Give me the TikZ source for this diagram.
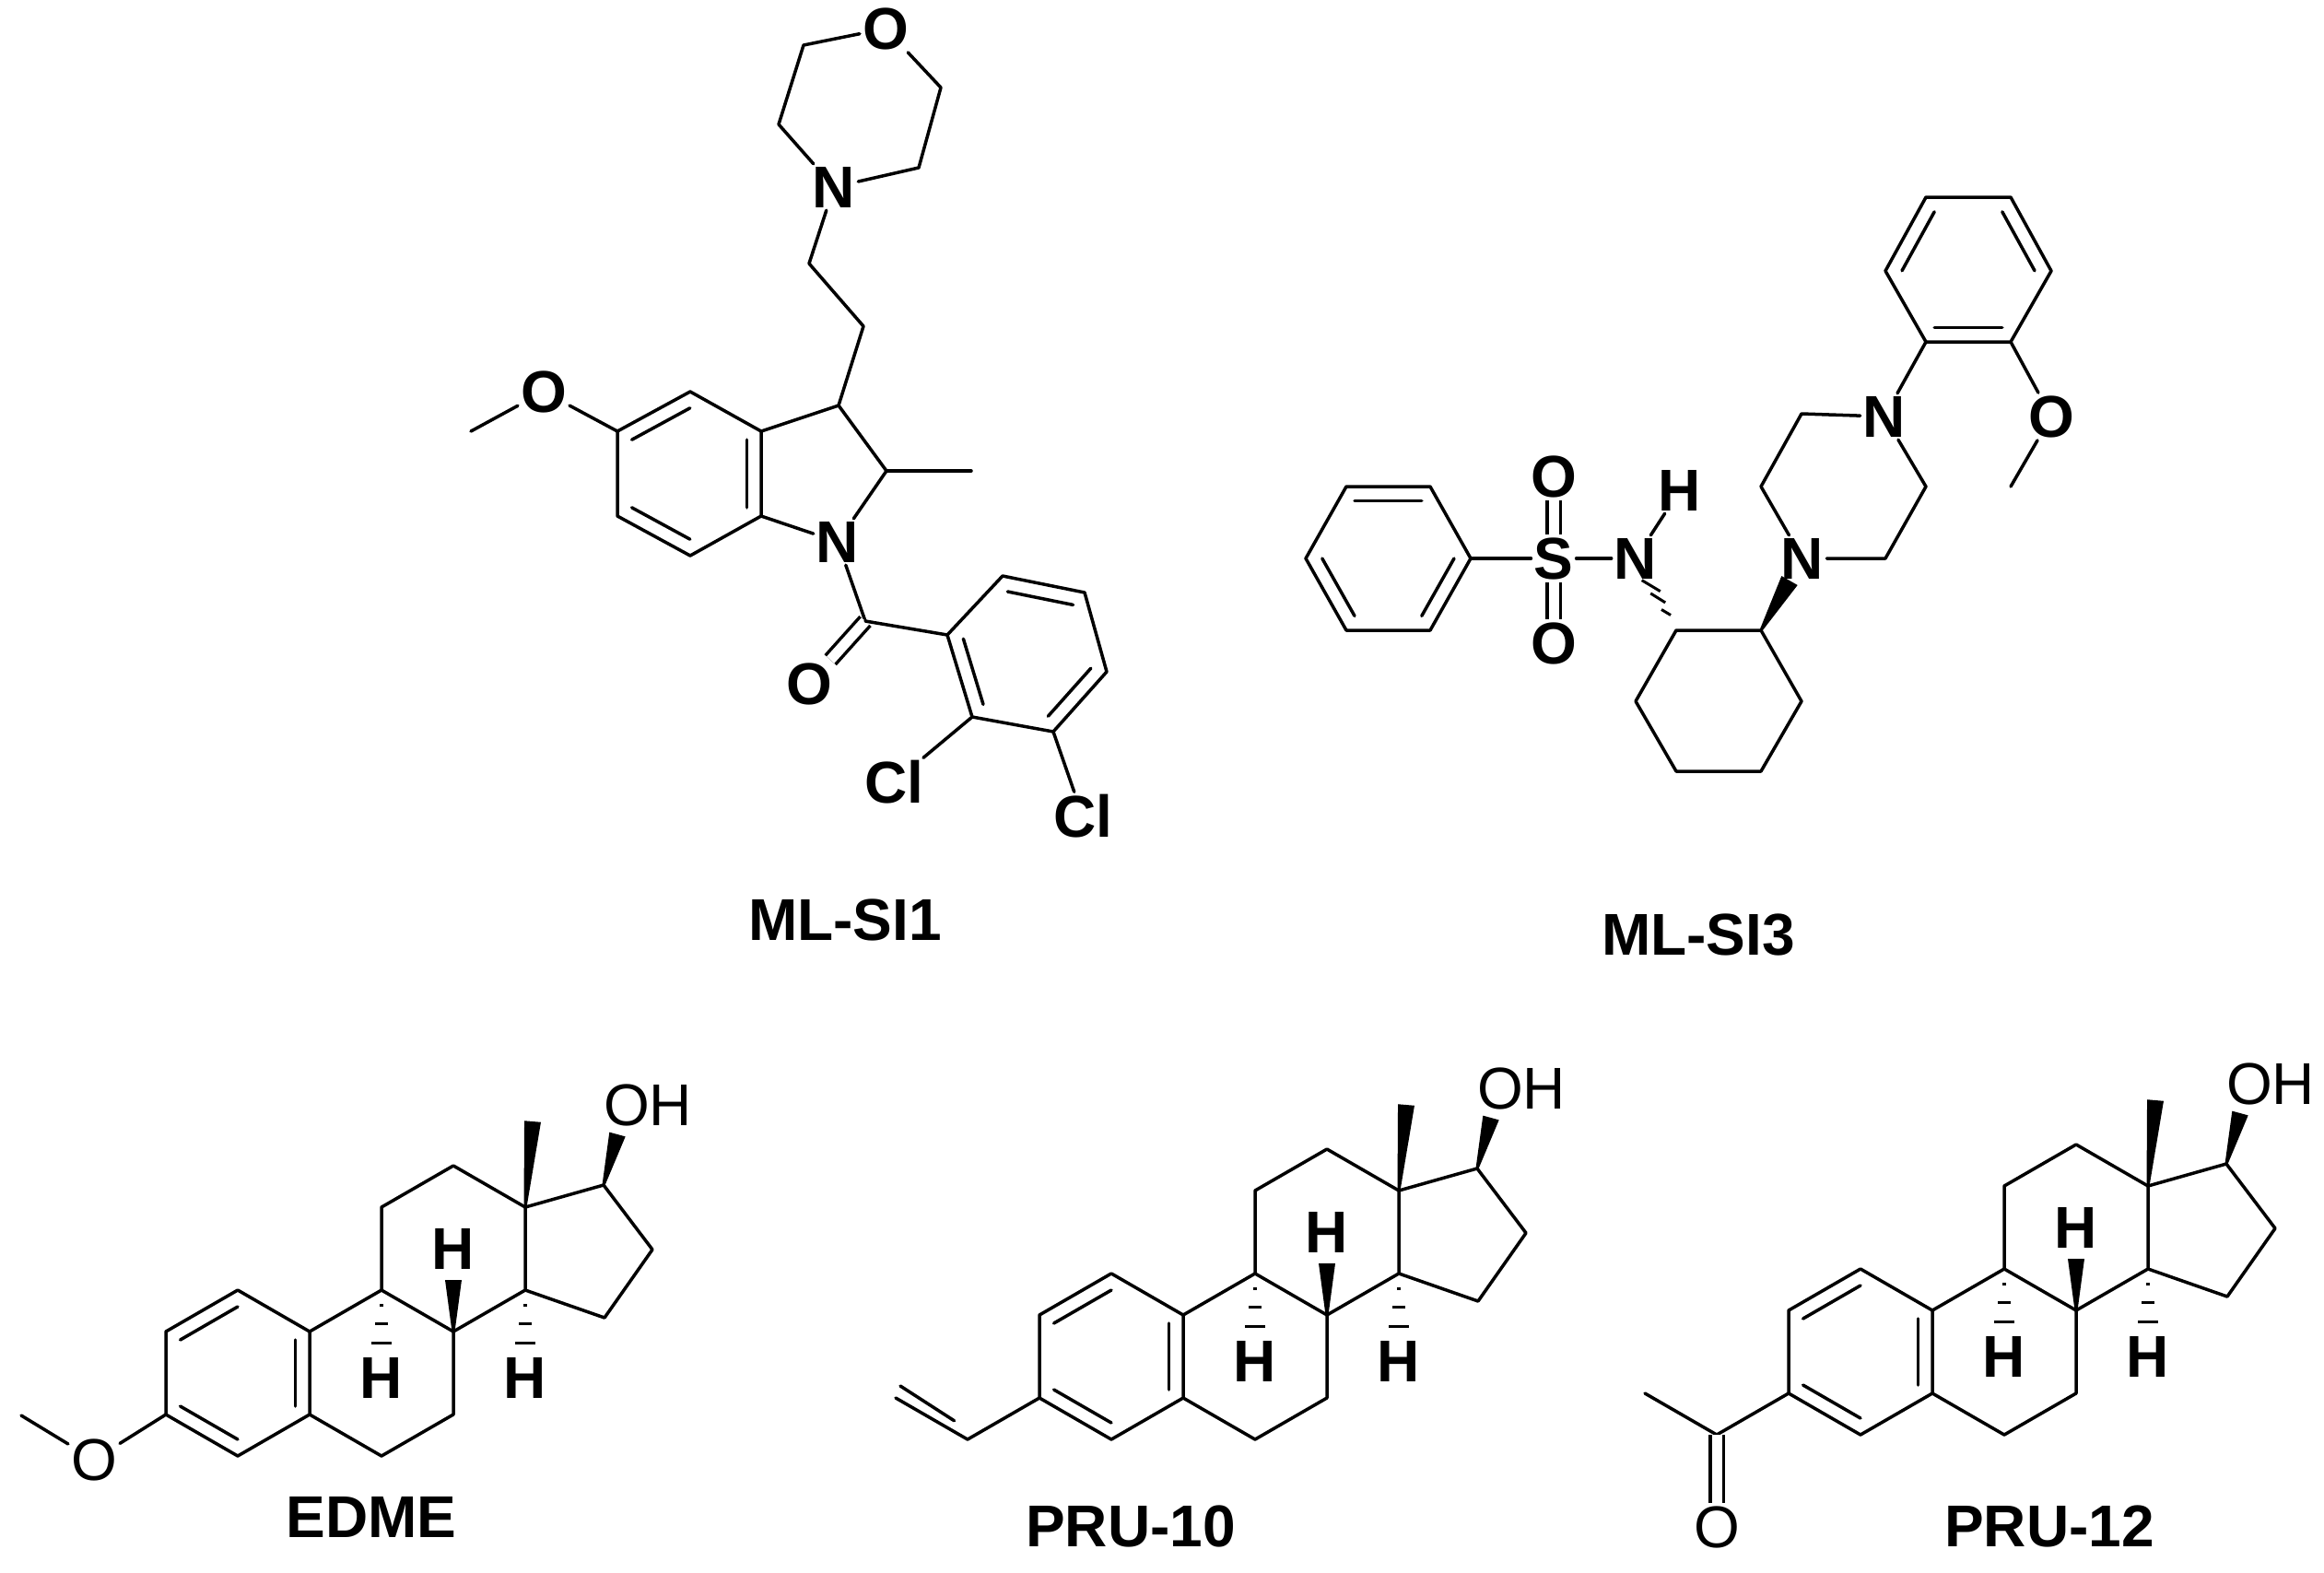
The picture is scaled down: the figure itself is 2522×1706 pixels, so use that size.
\documentclass[tikz,border=0pt]{standalone}
\usepackage{fontspec}
\setmainfont{Liberation Sans}
\usetikzlibrary{calc}
\tikzset{
 bond/.style={line width=3.5pt, line cap=round, line join=round},
 atom/.style={font=\fontsize{64}{70}\selectfont\bfseries, inner sep=3pt},
 ratom/.style={font=\fontsize{64}{70}\selectfont, inner sep=3pt},
 title/.style={font=\fontsize{64}{70}\selectfont\bfseries},
 dbl/.style={bond, double distance=11pt, line cap=butt}
}
\newcommand\inner[3]{\draw[bond] ($(#1)!0.2!(#3)$) -- ($(#2)!0.2!(#3)$);}
\newcommand\wedgeb[3]{\fill ($(#1)!1.5pt!90:(#2)$) -- ($(#2)!#3!-90:(#1)$) -- ($(#2)!#3!90:(#1)$) -- ($(#1)!1.5pt!-90:(#2)$) -- cycle;}
\newcommand\steroid[3]{%
\begin{scope}[shift={(#2,#3)}]
 \coordinate (#1c10) at (0,0); \coordinate (#1c5) at (0,90);
 \coordinate (#1c4) at (-78,135); \coordinate (#1c3) at (-156,90);
 \coordinate (#1c2) at (-156,0); \coordinate (#1c1) at (-78,-45);
 \coordinate (#1c9) at (78,-45); \coordinate (#1c8) at (156,0);
 \coordinate (#1c7) at (156,90); \coordinate (#1c6) at (78,135);
 \coordinate (#1c11) at (78,-135); \coordinate (#1c12) at (156,-180);
 \coordinate (#1c13) at (234,-135); \coordinate (#1c14) at (234,-45);
 \coordinate (#1c17) at (319,-159); \coordinate (#1c16) at (372,-89);
 \coordinate (#1c15) at (320,-15);
 \coordinate (#1ctr) at (-78,45);
 \draw[bond] (#1c10)--(#1c1)--(#1c2)--(#1c3)--(#1c4)--(#1c5)--(#1c10)--(#1c9)--(#1c8)--(#1c7)--(#1c6)--(#1c5);
 \draw[bond] (#1c9)--(#1c11)--(#1c12)--(#1c13)--(#1c14)--(#1c8);
 \draw[bond] (#1c13)--(#1c17)--(#1c16)--(#1c15)--(#1c14);
 \inner{#1c1}{#1c2}{#1ctr}\inner{#1c3}{#1c4}{#1ctr}\inner{#1c5}{#1c10}{#1ctr}
 \coordinate (#1me) at (242,-228);
 \wedgeb{#1c13}{#1me}{9pt}
 \coordinate (#1ow) at (334,-214);
 \wedgeb{#1c17}{#1ow}{9pt}
 \node[ratom] (#1oh) at (367,-246) {OH};
 \coordinate (#1hw) at (156,-56);
 \wedgeb{#1c8}{#1hw}{9pt}
 \node[atom] (#1h8) at (156,-90) {H};
 \node[atom] (#1h9) at (78,50) {H};
 \node[atom] (#1h14) at (234,50) {H};
 \foreach \xx in {78,234}{
  \draw[line width=3pt] (\xx-2,-29)--(\xx+2,-29);
  \draw[line width=3pt] (\xx-7,-9)--(\xx+7,-9);
  \draw[line width=3pt] (\xx-11,12)--(\xx+11,12);}
\end{scope}}
\begin{document}
\begin{tikzpicture}[x=1pt,y=-1pt]
\useasboundingbox (0,0) rectangle (2522,1706);
% ---------- ML-SI1 ----------
\node[atom] (mo) at (961,31) {O};
\coordinate (ma) at (1021,95); \coordinate (mb) at (997,182);
\node[atom] (mn) at (905,203) {N};
\coordinate (mc) at (845,135); \coordinate (md) at (872,49);
\draw[bond] (mo)--(ma)--(mb)--(mn)--(mc)--(md)--(mo);
\coordinate (ch1) at (878,286); \coordinate (ch2) at (937,354);
\coordinate (c3) at (910,440);
\draw[bond] (mn)--(ch1)--(ch2)--(c3);
\coordinate (c3a) at (826,468); \coordinate (c7a) at (826,560);
\node[atom] (n1) at (909,588) {N};
\coordinate (c2) at (962,511); \coordinate (me2) at (1054,511);
\coordinate (c4) at (749,425); \coordinate (c5) at (670,468);
\coordinate (c6) at (670,560); \coordinate (c7) at (749,603);
\coordinate (bz) at (748,514);
\draw[bond] (c3a)--(c3)--(c2)--(n1)--(c7a);
\draw[bond] (c2)--(me2);
\draw[bond] (c3a)--(c4)--(c5)--(c6)--(c7)--(c7a)--cycle;
\inner{c4}{c5}{bz}\inner{c6}{c7}{bz}\inner{c3a}{c7a}{bz}
\node[atom] (o5) at (590,425) {O};
\coordinate (me5) at (511,468);
\draw[bond] (c5)--(o5)--(me5);
\coordinate (co) at (939,674);
\node[atom] (oc) at (878,742) {O};
\draw[bond] (n1)--(co);
\draw[dbl] (co)--(oc);
\coordinate (a1) at (1028,689); \coordinate (a2) at (1055,778);
\coordinate (a3) at (1143,794); \coordinate (a4) at (1201,729);
\coordinate (a5) at (1177,643); \coordinate (a6) at (1088,625);
\coordinate (ac) at (1115,710);
\draw[bond] (co)--(a1);
\draw[bond] (a1)--(a2)--(a3)--(a4)--(a5)--(a6)--cycle;
\inner{a1}{a2}{ac}\inner{a3}{a4}{ac}\inner{a5}{a6}{ac}
\node[atom] (cl1) at (970,849) {Cl};
\node[atom] (cl2) at (1175,886) {Cl};
\draw[bond] (a2)--(cl1); \draw[bond] (a3)--(cl2);
\node[title] (t1) at (917,998) {ML-SI1};
% ---------- ML-SI3 ----------
\coordinate (b1) at (1417,606); \coordinate (b2) at (1461,528);
\coordinate (b3) at (1552,528); \coordinate (b4) at (1596,606);
\coordinate (b5) at (1552,684); \coordinate (b6) at (1461,684);
\coordinate (bc) at (1506,606);
\draw[bond] (b1)--(b2)--(b3)--(b4)--(b5)--(b6)--cycle;
\inner{b2}{b3}{bc}\inner{b4}{b5}{bc}\inner{b6}{b1}{bc}
\node[atom] (s) at (1686,606) {S};
\node[atom] (ot) at (1686,517) {O};
\node[atom] (ob) at (1686,698) {O};
\node[atom] (ns) at (1775,606) {N};
\node[atom] (hn) at (1823,532) {H};
\draw[bond] (b4)--(s)--(ns);
\draw[dbl] (s)--(ot); \draw[dbl] (s)--(ob);
\draw[bond] (ns)--(hn);
\coordinate (ca) at (1819,684); \coordinate (cb) at (1911,684);
\coordinate (cc) at (1955,761); \coordinate (cd) at (1911,837);
\coordinate (ce) at (1819,837); \coordinate (cf) at (1775,761);
\draw[bond] (ca)--(cb)--(cc)--(cd)--(ce)--(cf)--cycle;
\draw[line width=3pt] ($(ca)!0.25!(ns)$) ++(-5,-3) -- ++(10,6);
\draw[line width=3pt] ($(ca)!0.45!(ns)$) ++(-8,-5) -- ++(16,10);
\draw[line width=3pt] ($(ca)!0.62!(ns)$) ++(-10,-6) -- ++(20,12);
\node[atom] (n2) at (1956,606) {N};
\coordinate (n2w) at (1942,630);
\wedgeb{cb}{n2w}{10pt}
\coordinate (p1) at (2046,606); \coordinate (p2) at (2090,528);
\node[atom] (n3) at (2045,452) {N};
\coordinate (p3) at (1955,449); \coordinate (p4) at (1911,528);
\draw[bond] (n2)--(p1)--(p2)--(n3)--(p3)--(p4)--(n2);
\coordinate (r1) at (2090,371); \coordinate (r2) at (2182,371);
\coordinate (r3) at (2226,294); \coordinate (r4) at (2182,214);
\coordinate (r5) at (2090,214); \coordinate (r6) at (2046,294);
\coordinate (rc) at (2136,293);
\draw[bond] (n3)--(r1);
\draw[bond] (r1)--(r2)--(r3)--(r4)--(r5)--(r6)--cycle;
\inner{r1}{r2}{rc}\inner{r3}{r4}{rc}\inner{r5}{r6}{rc}
\node[atom] (or) at (2226,452) {O};
\coordinate (mer) at (2182,528);
\draw[bond] (r2)--(or)--(mer);
\node[title] (t3) at (1843,1014) {ML-SI3};
% ---------- steroids ----------
\steroid{e}{336}{1445}
\node[ratom] (eo) at ($(ec3)+(-78,49)$) {O};
\coordinate (eme) at ($(ec3)+(-157,1)$);
\draw[bond] (ec3)--(eo)--(eme);
\node[title] (te) at (403,1646) {EDME};
\steroid{p}{1284}{1427}
\coordinate (pv1) at ($(pc3)+(-78,45)$);
\coordinate (pv2) at ($(pc3)+(-156,0)$);
\draw[bond] (pc3)--(pv1)--(pv2);
\draw[bond] ($(pv1)!0.25!(pv2)+(5,-9)$) -- ($(pv2)+(5,-13)$);
\node[title] (tp) at (1227,1656) {PRU-10};
\steroid{q}{2097}{1422}
\coordinate (qa) at ($(qc3)+(-78,45)$);
\coordinate (qm) at ($(qc3)+(-156,0)$);
\node[ratom] (qo) at ($(qa)+(0,100)$) {O};
\draw[bond] (qc3)--(qa)--(qm);
\draw[dbl] (qa)--(qo);
\node[title] (tq) at (2224,1656) {PRU-12};
\end{tikzpicture}
\end{document}
